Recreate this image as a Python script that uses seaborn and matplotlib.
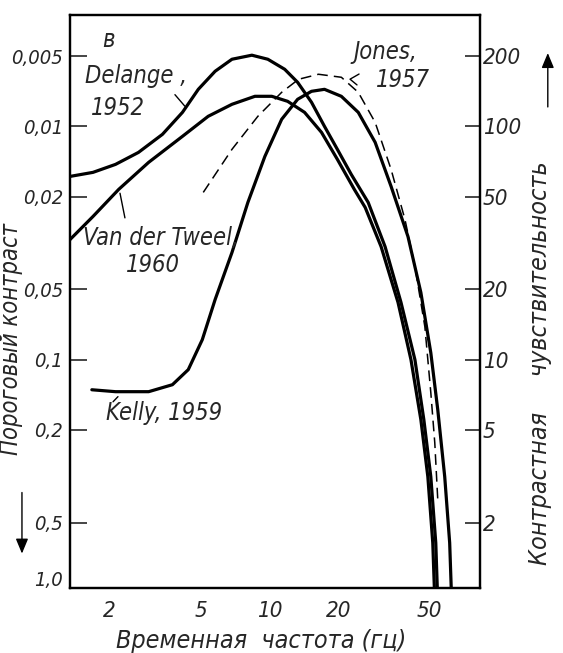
import matplotlib
matplotlib.use("Agg")
import matplotlib.pyplot as plt
from matplotlib import font_manager
from matplotlib.patches import FancyArrowPatch
from matplotlib.ticker import NullLocator, FixedLocator, FixedFormatter
import seaborn as sns
import pandas as pd

# Temporal contrast sensitivity curves (frequency in Hz, sensitivity = 1/threshold contrast)
delange_f = [1.34, 1.69, 2.12, 2.67, 3.40, 4.16, 4.88, 5.78, 6.85, 8.37, 9.83, 11.65, 13.27,
             15.26, 17.39, 19.80, 22.78, 27.01, 32.02, 37.58, 43.24, 47.31, 50.75, 53.35, 54.4]
delange_s = [61.0, 63.5, 68.7, 77.3, 92.4, 114.8, 144.1, 172.2, 193.9, 201.8, 193.9, 175.6, 154.4,
             126.8, 100, 79.7, 62.2, 47.2, 30.5, 17.6, 10, 5.53, 3.15, 1.64, 0.93]

tweel_f = [1.34, 1.69, 2.19, 2.96, 4.16, 5.39, 6.85, 8.63, 10.23, 12.00, 14.23, 16.88, 19.80,
           23.48, 26.21, 30.76, 36.47, 41.55, 45.91, 49.25, 51.76, 52.82]
tweel_s = [32.7, 41.1, 53.7, 70.1, 90.6, 110.4, 124.3, 134.5, 134.5, 128.0, 114.8, 94.2, 72.2,
           53.7, 44.9, 30.5, 17.6, 10, 5.53, 3.15, 1.64, 0.93]

kelly_f = [1.67, 2.12, 2.96, 3.76, 4.41, 5.08, 5.78, 6.85, 8.04, 9.54, 11.30, 13.27, 15.26,
           17.39, 20.61, 24.44, 28.97, 34.01, 40.32, 45.91, 50.75, 54.43, 58.38, 61.37, 62.6]
kelly_s = [7.43, 7.29, 7.29, 7.81, 9.06, 12.18, 18.09, 28.8, 47.2, 74.3, 107.2, 130.6, 141.3,
           144.1, 134.5, 114.8, 85.4, 55.3, 33.7, 19.4, 10.7, 6.10, 3.15, 1.64, 0.93]

jones_f = [5.13, 6.85, 8.89, 11.30, 13.40, 16.37, 20.61, 24.44, 28.97, 34.01, 39.11, 43.24,
           47.79, 50.75, 52.82, 54.43]
jones_s = [52.1, 79.7, 110.4, 139.9, 159.1, 167.2, 162.3, 139.9, 104.0, 65.4, 39.9, 25.1,
           13.85, 7.22, 4.40, 2.51]

freq_ticks = [2, 5, 10, 20, 50]
freq_labels = ["2", "5", "10", "20", "50"]
sens_ticks = [200, 100, 50, 20, 10, 5, 2]
sens_labels = ["200", "100", "50", "20", "10", "5", "2"]
contrast_ticks = [0.005, 0.01, 0.02, 0.05, 0.1, 0.2, 0.5]
contrast_labels = ["0,005", "0,01", "0,02", "0,05", "0,1", "0,2", "0,5"]

sns.set_style("white")
available = {f.name for f in font_manager.fontManager.ttflist}
family = next((n for n in ["Liberation Sans Narrow", "DejaVu Sans Condensed"] if n in available),
              "DejaVu Sans")
plt.rcParams["font.family"] = [family, "DejaVu Sans"]
plt.rcParams["font.style"] = "italic"
plt.rcParams["font.stretch"] = "condensed"

fig = plt.figure(figsize=(5.63, 6.53), dpi=100)
ax = fig.add_axes([0.1243, 0.0995, 0.7283, 0.8775])

for f, s in [(delange_f, delange_s), (tweel_f, tweel_s), (kelly_f, kelly_s)]:
    df = pd.DataFrame({"f": f, "s": s})
    sns.lineplot(data=df, x="f", y="s", ax=ax, color="black", linewidth=2.3,
                 estimator=None, sort=False, solid_joinstyle="round")
dfj = pd.DataFrame({"f": jones_f, "s": jones_s})
sns.lineplot(data=dfj, x="f", y="s", ax=ax, color="black", linewidth=1.1,
             estimator=None, sort=False)
ax.lines[-1].set_dashes((7, 4))

ax.set_xscale("log")
ax.set_yscale("log")
ax.set_xlim(1.34, 83.3)
ax.set_ylim(1.05, 300)
ax.set_xlabel("")
ax.set_ylabel("")

# Left axis: threshold contrast, the reciprocal of sensitivity
axL = ax.twinx()
axL.set_yscale("log")
axL.set_ylim(1 / 1.05, 1 / 300)
axL.yaxis.tick_left()
axL.yaxis.set_major_locator(FixedLocator(contrast_ticks))
axL.yaxis.set_major_formatter(FixedFormatter(contrast_labels))
axL.yaxis.set_minor_locator(NullLocator())
axL.tick_params(axis="y", which="both", direction="in", length=12, width=1.2, pad=5,
                labelsize=14.5, left=True, right=False, labelleft=True, labelright=False)
axL.text(-0.017, 0.014, "1,0", transform=ax.transAxes, ha="right", va="center", fontsize=14.5)

# Right axis: contrast sensitivity
ax.xaxis.set_major_locator(FixedLocator(freq_ticks))
ax.xaxis.set_major_formatter(FixedFormatter(freq_labels))
ax.xaxis.set_minor_locator(NullLocator())
ax.yaxis.set_major_locator(FixedLocator(sens_ticks))
ax.yaxis.set_major_formatter(FixedFormatter(sens_labels))
ax.yaxis.set_minor_locator(NullLocator())
ax.yaxis.tick_right()
ax.tick_params(axis="x", direction="in", length=9, width=1.0, pad=9, labelsize=16)
ax.tick_params(axis="y", which="both", direction="in", length=11, width=1.2, pad=2,
               labelsize=16, right=True, left=False, labelright=True, labelleft=False)

for a in (ax, axL):
    for sp in a.spines.values():
        sp.set_visible(True)
        sp.set_linewidth(1.6)
        sp.set_color("black")

label_fs = 17
ax.text(0.093, 0.957, "в", transform=ax.transAxes, ha="center", va="center", fontsize=label_fs)
ax.text(0.037, 0.894, "Delange ,", transform=ax.transAxes, ha="left", va="center", fontsize=label_fs)
ax.text(0.117, 0.838, "1952", transform=ax.transAxes, ha="center", va="center", fontsize=label_fs)
ax.text(0.222, 0.611, "Van der Tweel,", transform=ax.transAxes, ha="center", va="center", fontsize=label_fs)
ax.text(0.202, 0.564, "1960", transform=ax.transAxes, ha="center", va="center", fontsize=label_fs)
ax.text(0.229, 0.305, "Kelly, 1959", transform=ax.transAxes, ha="center", va="center", fontsize=label_fs)
ax.text(0.768, 0.935, "Jones,", transform=ax.transAxes, ha="center", va="center", fontsize=label_fs)
ax.text(0.812, 0.887, "1957", transform=ax.transAxes, ha="center", va="center", fontsize=label_fs)

# Leader lines from labels to their curves
lead = dict(transform=ax.transAxes, color="black", linewidth=1.0, clip_on=False)
ax.plot([0.256, 0.280], [0.861, 0.841], **lead)
ax.plot([0.122, 0.134], [0.689, 0.646], **lead)
ax.plot([0.117, 0.105], [0.334, 0.325], **lead)
ax.plot([0.705, 0.683, 0.700], [0.897, 0.888, 0.878], **lead)

# Axis titles and direction arrows
fig.text(0.4636, 0.0184, "Временная  частота (гц)", ha="center", va="center", fontsize=18)
fig.text(0.020, 0.481, "Пороговый контраст", rotation=90, ha="center", va="center", fontsize=17)
fig.text(0.959, 0.444, "Контрастная     чувствительность", rotation=90, ha="center", va="center",
         fontsize=18)
arrow_style = dict(transform=fig.transFigure, arrowstyle="-|>,head_length=6,head_width=2.5",
                   color="black", linewidth=1.0, mutation_scale=1.5)
fig.add_artist(FancyArrowPatch((0.039, 0.250), (0.039, 0.148), **arrow_style))
fig.add_artist(FancyArrowPatch((0.973, 0.832), (0.973, 0.923), **arrow_style))

fig.savefig("out.png", dpi=100, facecolor="white")
